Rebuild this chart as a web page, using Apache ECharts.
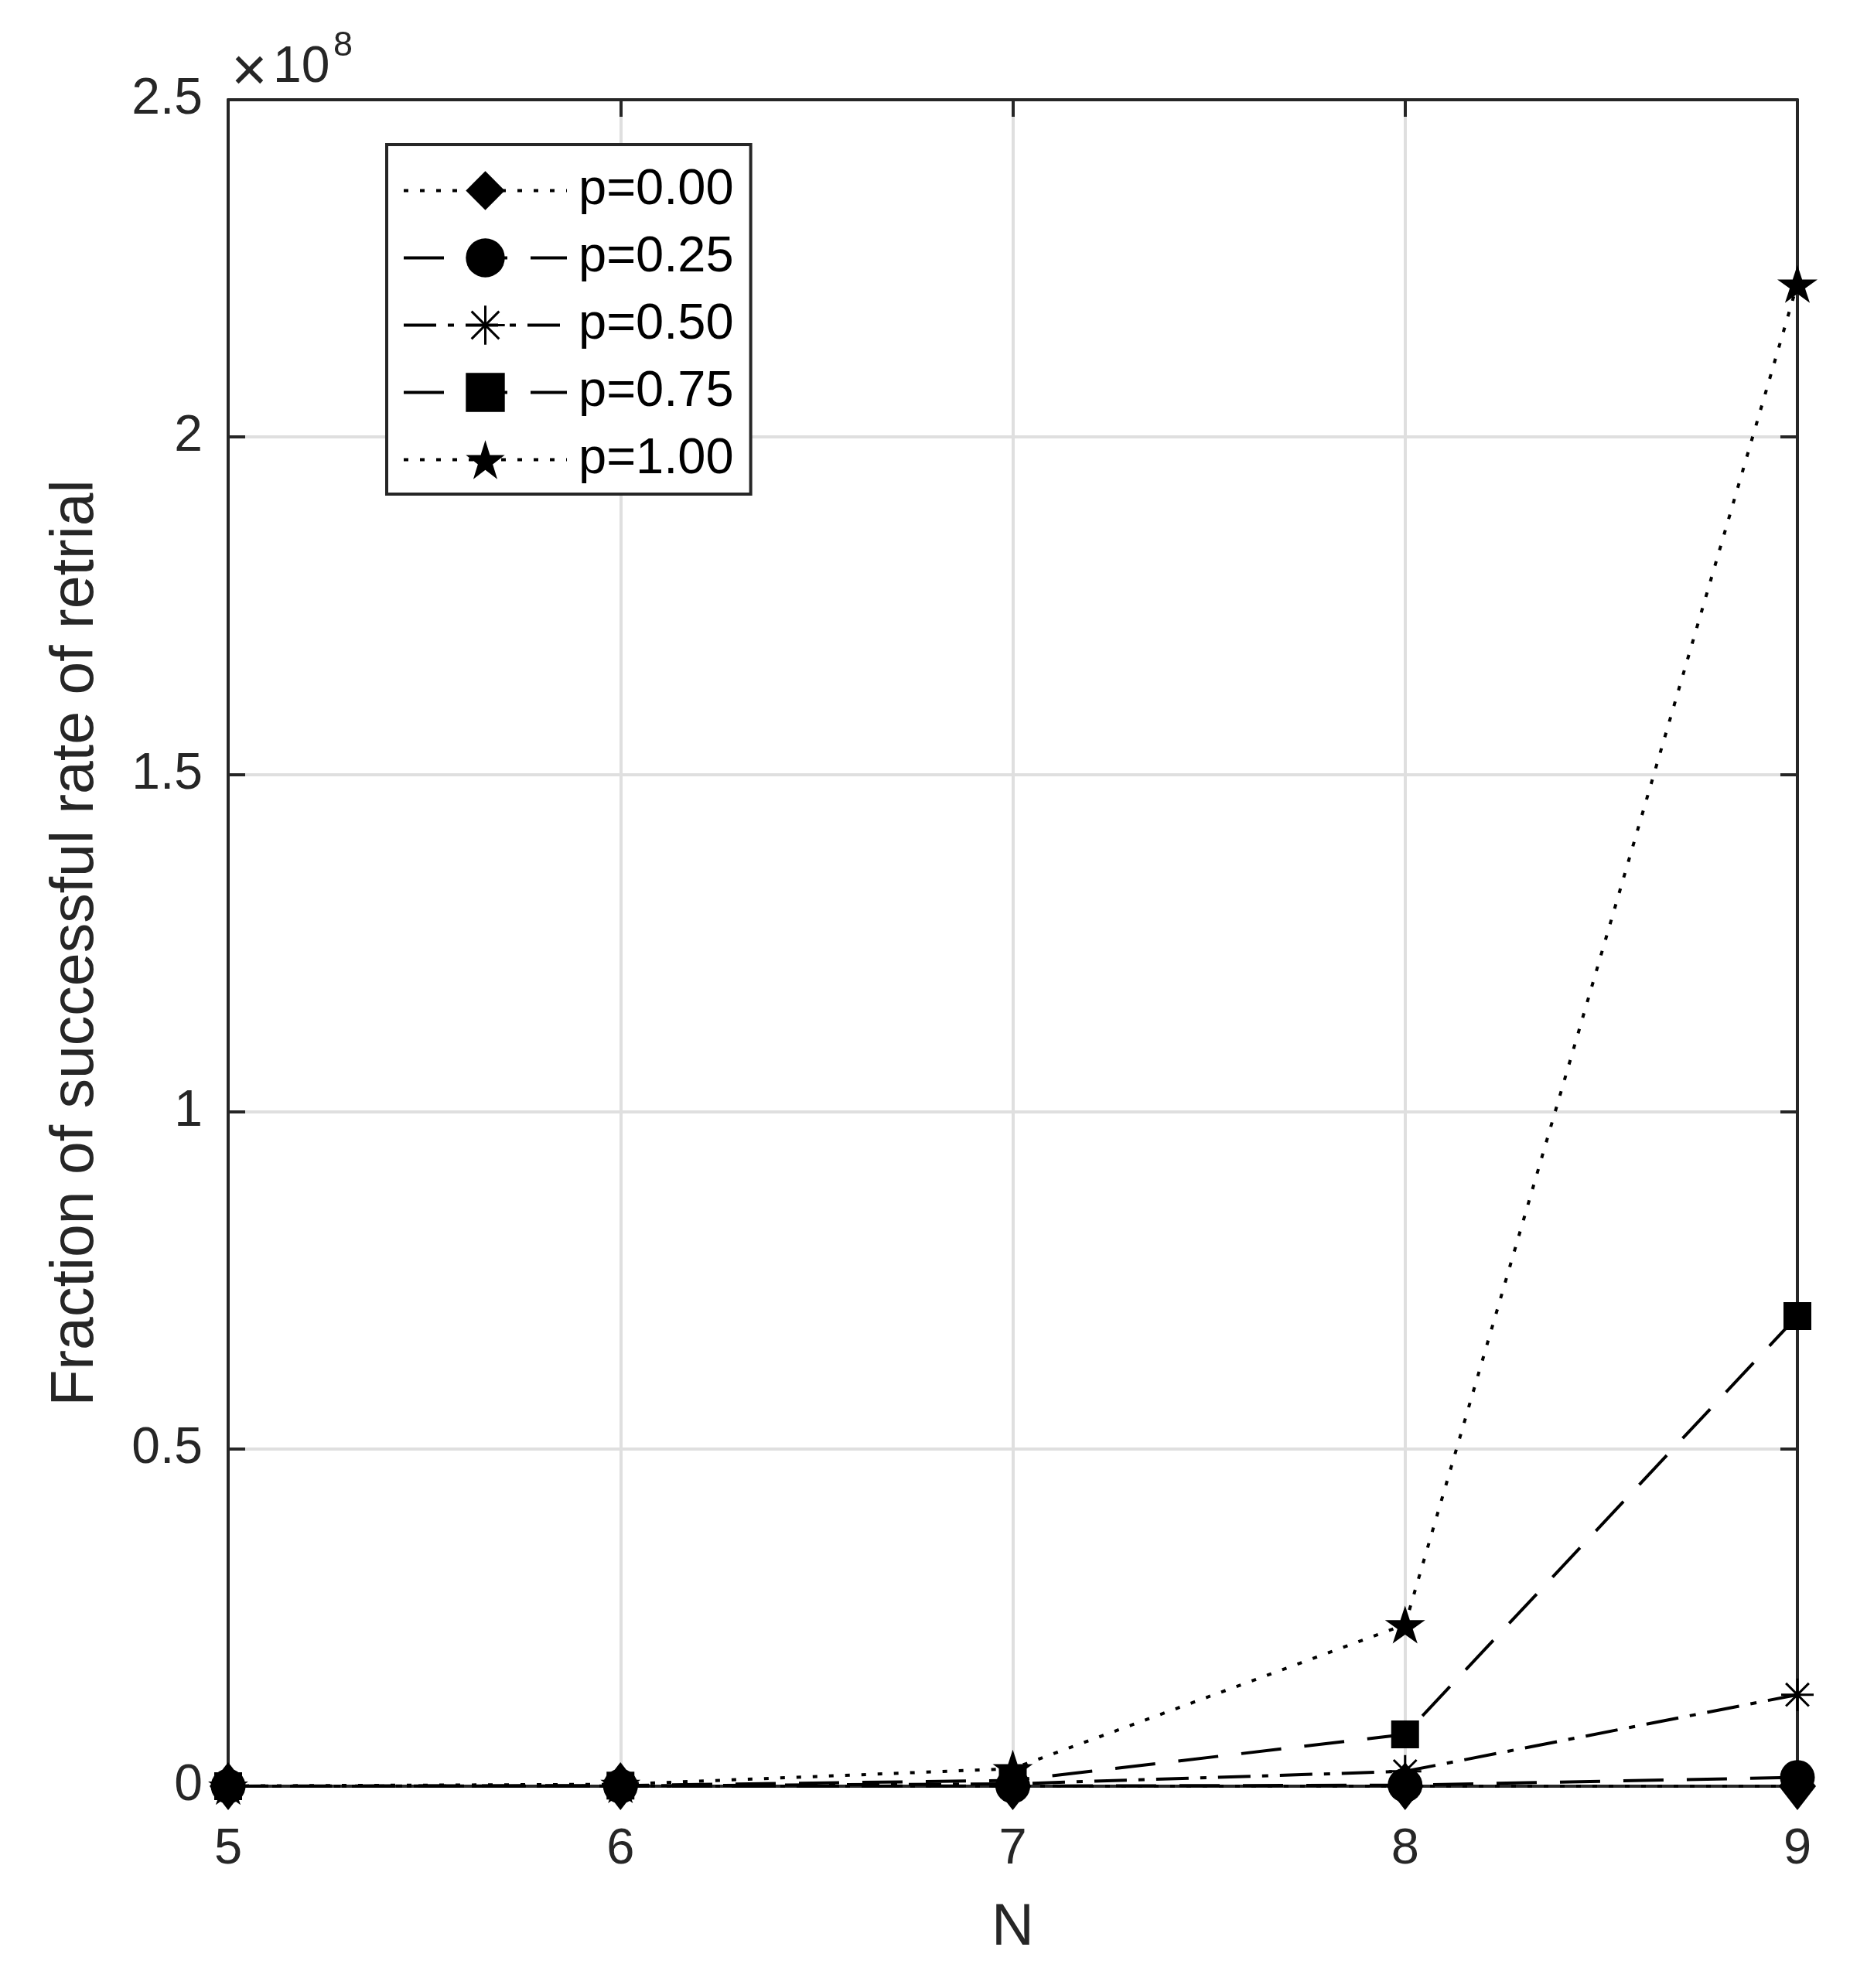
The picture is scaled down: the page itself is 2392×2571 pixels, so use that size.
<!DOCTYPE html>
<html>
<head>
<meta charset="utf-8">
<script src="https://cdn.jsdelivr.net/npm/echarts@6/dist/echarts.min.js"></script>
<style>
html,body{margin:0;padding:0;background:#fff;}
#chart{width:2392px;height:2571px;}
</style>
</head>
<body>
<div id="chart"></div>
<script>
// ---- data ----
var N = [5, 6, 7, 8, 9];
var seriesNames = ['p=0.00', 'p=0.25', 'p=0.50', 'p=0.75', 'p=1.00'];
var p000 = [0, 0, 0, 0, 0];
var p025 = [0, 2e3, 2e4, 1.5e5, 1.3e6];
var p050 = [1e3, 4e4, 3.5e5, 2.2e6, 1.356e7];
var p075 = [1e4, 1e5, 8.5e5, 7.68e6, 6.97e7];
var p100 = [3e4, 2.8e5, 2.6e6, 2.396e7, 2.227e8];
var yTickLabels = ['0', '0.5', '1', '1.5', '2', '2.5'];
var xTickLabels = ['5', '6', '7', '8', '9'];

var FONT = 'Liberation Sans, Arial, Helvetica, sans-serif';
var AX = '#262626';
var STAR = 'path://M0,-10L2.245,-3.09L9.511,-3.09L3.633,1.18L5.878,8.09L0,3.82L-5.878,8.09L-3.633,1.18L-9.511,-3.09L-2.245,-3.09Z';
var ASTER = 'path://M0,-10L0,10M-10,0L10,0M-7.07,-7.07L7.07,7.07M-7.07,7.07L7.07,-7.07';

function pairs(vals){ return N.map(function(n,i){ return [n, vals[i]]; }); }

function mk(name, vals, symbol, size, dash, extraItem){
  var it = {color:'#000', borderWidth:0};
  if (extraItem) { for (var k in extraItem) it[k] = extraItem[k]; }
  return {
    name: name, type: 'line', data: pairs(vals),
    symbol: symbol, symbolSize: size, showSymbol: true, clip: false,
    lineStyle: {color:'#000', width:4, type: dash, cap:'butt'},
    itemStyle: it,
    emphasis: {disabled: true},
    animation: false
  };
}

var chart = echarts.init(document.getElementById('chart'), null, {renderer:'canvas', devicePixelRatio:1});

var axisCommon = {
  axisLine: {show:true, onZero:false, lineStyle:{color:AX, width:4}},
  axisTick: {show:true, inside:true, length:22, lineStyle:{color:AX, width:4}}
};

chart.setOption({
  animation: false,
  backgroundColor: '#fff',
  grid: {left:295, top:129, right:68, bottom:261, containLabel:false},
  xAxis: [
    Object.assign({
      type:'value', min:5, max:9, interval:1, position:'bottom',
      name:'N', nameLocation:'middle', nameGap:146,
      nameTextStyle:{fontFamily:FONT, fontSize:76, color:AX},
      axisLabel:{show:true, margin:50, fontFamily:FONT, fontSize:65, color:AX,
        formatter:function(v){ var i = N.indexOf(v); return i>=0 ? xTickLabels[i] : ''; }},
      splitLine:{show:true, lineStyle:{color:'#dfdfdf', width:4}}
    }, axisCommon),
    Object.assign({
      type:'value', min:5, max:9, interval:1, position:'top',
      axisLabel:{show:false}, splitLine:{show:false}
    }, axisCommon)
  ],
  yAxis: [
    Object.assign({
      type:'value', min:0, max:2.5e8, interval:0.5e8, position:'left',
      name:'Fraction of successful rate of retrial', nameLocation:'middle', nameGap:158,
      nameTextStyle:{fontFamily:FONT, fontSize:77, color:AX},
      axisLabel:{show:true, margin:33, fontFamily:FONT, fontSize:66, color:AX,
        formatter:function(v){ var i = Math.round(v/0.5e8); return yTickLabels[i]; }},
      splitLine:{show:true, lineStyle:{color:'#dfdfdf', width:4}}
    }, axisCommon),
    Object.assign({
      type:'value', min:0, max:2.5e8, interval:0.5e8, position:'right',
      axisLabel:{show:false}, splitLine:{show:false}
    }, axisCommon)
  ],
  legend: {
    orient:'vertical', left:500, top:187,
    padding:[27, 22, 12, 20],
    backgroundColor:'#fff', borderColor:AX, borderWidth:4, borderRadius:0,
    itemWidth:211, itemHeight:63, itemGap:22,
    selectedMode:false,
    textStyle:{fontFamily:FONT, fontSize:65, color:'#000', padding:[0,0,0,10]},
    lineStyle:{width:4},
    data: seriesNames.map(function(n){
      return n === 'p=0.50' ? {name:n, itemStyle:{borderWidth:3, borderColor:'#000'}} : n;
    })
  },
  graphic: [
    {type:'text', left:299, top:55, style:{text:'\u00d7', fontFamily:FONT, fontSize:80, fill:AX}},
    {type:'text', left:353, top:55, style:{text:'10', fontFamily:FONT, fontSize:66, fill:AX}},
    {type:'text', left:431, top:37, style:{text:'8', fontFamily:FONT, fontSize:45, fill:AX}}
  ],
  series: [
    mk(seriesNames[0], p000, 'diamond', [48, 62], [6, 15]),
    mk(seriesNames[1], p025, 'circle', 45, [52, 30]),
    mk(seriesNames[2], p050, ASTER, 42, [42, 15, 8, 15], {borderColor:'#000', borderWidth:3}),
    mk(seriesNames[3], p075, 'rect', 36, [52, 30]),
    mk(seriesNames[4], p100, STAR, [52, 49], [6, 15])
  ]
});
</script>
</body>
</html>
